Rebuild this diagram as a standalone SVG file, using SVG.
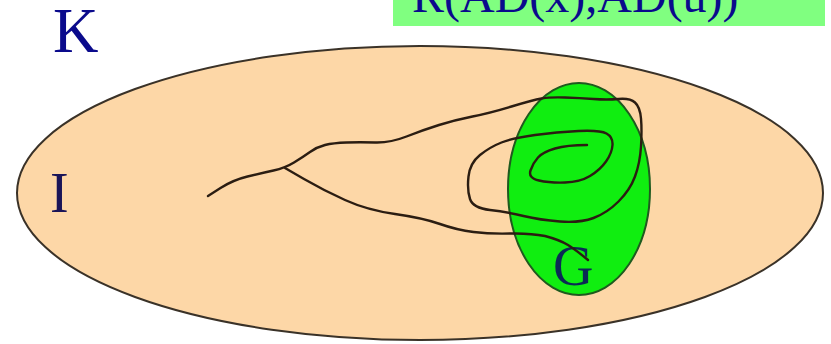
<svg xmlns="http://www.w3.org/2000/svg" width="831" height="344" viewBox="0 0 831 344">
<style>
.lbl{font-family:"Liberation Serif","Times New Roman",serif;}
.curve{fill:none;stroke:#2b1d12;stroke-width:2.4;stroke-linecap:round;stroke-linejoin:round;}
</style>
<rect x="0" y="0" width="831" height="344" fill="#ffffff"/>
<g id="label-box">
<rect x="393" y="0" width="432" height="26" fill="#80ff80"/>
<text class="lbl" x="412" y="12" font-size="48" fill="#0a0a8c">R(AD(x),AD(u))</text>
</g>
<g id="K">
<text class="lbl" x="53" y="52" font-size="63" fill="#0a0a8c">K</text>
</g>
<g id="I">
<ellipse cx="420" cy="193" rx="403" ry="147" fill="#fdd7a7" stroke="#3a3228" stroke-width="2"/>
<text class="lbl" x="50" y="212" font-size="56" fill="#1a1458">I</text>
</g>
<g id="G">
<ellipse cx="579" cy="189" rx="71" ry="106" fill="#10ee10" stroke="#1f5a1f" stroke-width="2"/>
<text class="lbl" x="553" y="285" font-size="56" fill="#0b2a55">G</text>
</g>
<g id="connectors">
<path class="curve" d="M208,196 L220.5,188 Q233,180 247.5,176.5 Q262,173 273.5,170.5 Q285,168 294,162.5 Q303,157 310,152 Q317,147 325,145 Q333,143 346.5,142.5 Q360,142 375,142.5 Q390,143 406.5,136.5 Q423,130 439,125 Q455,120 472.5,116.5 Q490,113 511.5,106.5 Q533,100 541.5,98.5 Q550,97 565,97.5 Q580,98 593.5,99 Q607,100 618.5,99 Q630,98 635,102.5 Q640,107 641,118.5 Q642,130 641,146.5 Q640,163 635,176.5 Q630,190 618.5,201.5 Q607,213 593.5,218 Q580,223 560,221.5 Q540,220 523.5,216 Q507,212 490,210 Q473,208 470,199 Q467,190 468.5,176.5 Q470,163 480,155 Q490,147 501.5,142.5 Q513,138 535,135 Q557,132 578.5,131 Q600,130 606.5,133.5 Q613,137 612.5,145 Q612,153 606,161.5 Q600,170 590,176 Q580,182 565,182.5 Q550,183 539,180.5 Q528,178 530.5,170.5 Q533,163 538,157.5 Q543,152 555,148.5 Q567,145 587,145"/>
<path class="curve" d="M285,168 L304,179 Q323,190 345,200 Q367,210 395,214 Q423,218 440,224 Q457,230 473.5,232 Q490,234 510,233.5 Q530,233 545,236 Q560,240 568,245 Q576,250 588,260"/>
</g>
</svg>
